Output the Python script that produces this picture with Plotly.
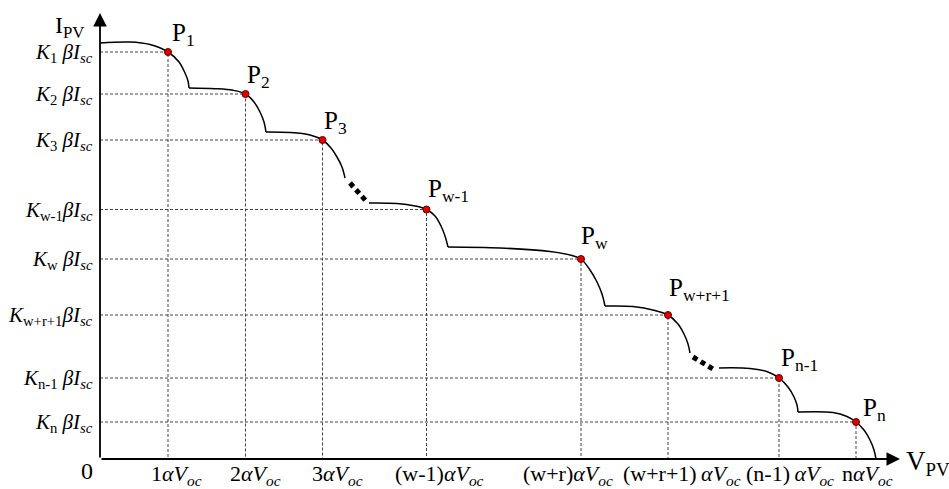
import plotly.graph_objects as go

# Maximum power points of each sub-string (voltage, current) in drawing units
mpp_v = [68, 145.5, 222.5, 326.5, 481, 568, 679, 756]
mpp_i = [407, 365, 319, 249.5, 200, 144, 81, 37]
mpp_names = ["1", "2", "3", "w-1", "w", "w+r+1", "n-1", "n"]

# Stepped I-V characteristic, one list per bypass-diode step
seg_v = [
    [0, 30, 50, 68, 79, 85, 88, 89],
    [89, 115, 133, 145.5, 154, 160, 164, 166],
    [166, 190, 210, 222.5, 231, 237, 242, 245],
    [269, 297, 315, 326.5, 335, 341, 345, 348],
    [348, 400, 450, 472, 481, 490, 497, 502, 505],
    [505, 533, 555, 568, 578, 584, 588, 590],
    [619, 650, 668, 679, 688, 694, 697, 698],
    [698, 733, 747, 756, 764, 770, 774, 776],
]
seg_i = [
    [416, 417, 414.5, 407, 397, 386, 378, 371],
    [371, 370.3, 368.7, 365, 357, 347, 337, 327],
    [327, 326.5, 324, 319, 311, 302, 292, 281],
    [256, 255.5, 253, 249.5, 243, 233, 223, 212],
    [212, 211, 207.5, 203.5, 200, 189, 177, 165, 153],
    [153, 152.5, 148.5, 144, 135, 125, 115, 106],
    [91, 90.5, 87, 81, 72, 62, 54, 47],
    [47, 46.5, 42.5, 37, 29, 19, 9, 0],
]

# Omitted steps ("...")
gap_v = [[250, 266], [593, 613]]
gap_i = [[276, 258], [102, 90]]

# Axis annotation texts
ytick_text = [
    "<i>K</i><sub>1</sub> <i>β</i><i>I</i><sub><i>sc</i></sub>",
    "<i>K</i><sub>2</sub> <i>β</i><i>I</i><sub><i>sc</i></sub>",
    "<i>K</i><sub>3</sub> <i>β</i><i>I</i><sub><i>sc</i></sub>",
    "<i>K</i><sub>w-1</sub><i>β</i><i>I</i><sub><i>sc</i></sub>",
    "<i>K</i><sub>w</sub> <i>β</i><i>I</i><sub><i>sc</i></sub>",
    "<i>K</i><sub>w+r+1</sub><i>β</i><i>I</i><sub><i>sc</i></sub>",
    "<i>K</i><sub>n-1</sub> <i>β</i><i>I</i><sub><i>sc</i></sub>",
    "<i>K</i><sub>n</sub> <i>β</i><i>I</i><sub><i>sc</i></sub>",
]
xtick_vals = [68, 145.5, 222.5, 326.5, 481, 568, 679, 756]
xtick_text = [
    "1<i>α</i><i>V</i><sub><i>oc</i></sub>",
    "2<i>α</i><i>V</i><sub><i>oc</i></sub>",
    "3<i>α</i><i>V</i><sub><i>oc</i></sub>",
    "(w-1)<i>α</i><i>V</i><sub><i>oc</i></sub>",
    "(w+r)<i>α</i><i>V</i><sub><i>oc</i></sub>",
    "(w+r+1)\u2009<i>α</i><i>V</i><sub><i>oc</i></sub>",
    "(n-1)\u2009<i>α</i><i>V</i><sub><i>oc</i></sub>",
    "n<i>α</i><i>V</i><sub><i>oc</i></sub>",
]
xtick_shift = [8, 10, 15, 13, -13, 14, 11, 11]
plabel_shift = [(3, 17), (0, 17), (0, 17), (0, 18), (-1, 21), (0, 25), (1, 18), (6, 12)]

FONT = "Liberation Serif"
fig = go.Figure()

# dotted guide lines from each MPP to both axes
for v, i in zip(mpp_v, mpp_i):
    fig.add_trace(go.Scatter(
        x=[0, v, v], y=[i, i, 0], mode="lines",
        line=dict(color="#444444", width=1, dash="3px,2px"),
        hoverinfo="skip"))

# I-V curve steps
for sv, si in zip(seg_v, seg_i):
    fig.add_trace(go.Scatter(
        x=sv, y=si, mode="lines",
        line=dict(color="black", width=1.5, shape="spline", smoothing=1.0),
        hoverinfo="skip"))

for gv, gi in zip(gap_v, gap_i):
    fig.add_trace(go.Scatter(
        x=gv, y=gi, mode="lines",
        line=dict(color="black", width=5, dash="5px,4px"),
        hoverinfo="skip"))

# MPP markers
fig.add_trace(go.Scatter(
    x=mpp_v, y=mpp_i, mode="markers",
    marker=dict(size=7, color="#e00000", line=dict(color="#600000", width=1)),
    hoverinfo="skip"))

ann = []
# axes with arrow heads
ann.append(dict(x=0, y=446, ax=0, ay=0, xref="x", yref="y", axref="x", ayref="y",
                text="", showarrow=True, arrowhead=2, arrowsize=1.5,
                arrowwidth=1.8, arrowcolor="black"))
ann.append(dict(x=800, y=0, ax=0, ay=0, xref="x", yref="y", axref="x", ayref="y",
                text="", showarrow=True, arrowhead=2, arrowsize=1.5,
                arrowwidth=1.8, arrowcolor="black"))

for i, t in zip(mpp_i, ytick_text):
    ann.append(dict(x=0, y=i, xref="x", yref="y", text=t, showarrow=False,
                    xanchor="right", yanchor="middle", xshift=-5, yshift=-1,
                    font=dict(family=FONT, size=21, color="black")))

for v, t, s in zip(xtick_vals, xtick_text, xtick_shift):
    ann.append(dict(x=v, y=0, xref="x", yref="y", text=t, showarrow=False,
                    xanchor="center", yanchor="middle", xshift=s, yshift=-16,
                    font=dict(family=FONT, size=22, color="black")))

for v, i, n, (dx, dy) in zip(mpp_v, mpp_i, mpp_names, plabel_shift):
    ann.append(dict(x=v, y=i, xref="x", yref="y", text="P<sub>" + n + "</sub>",
                    showarrow=False, xanchor="left", yanchor="middle",
                    xshift=dx - 1, yshift=dy + 1,
                    font=dict(family=FONT, size=25, color="black")))

ann.append(dict(x=0, y=446, xref="x", yref="y", text="I<sub>PV</sub>", showarrow=False,
                xanchor="center", yanchor="middle", xshift=-31, yshift=-14,
                font=dict(family=FONT, size=24, color="black")))
ann.append(dict(x=800, y=0, xref="x", yref="y", text="V<sub>PV</sub>", showarrow=False,
                xanchor="left", yanchor="middle", xshift=4, yshift=-4,
                font=dict(family=FONT, size=27, color="black")))
ann.append(dict(x=0, y=0, xref="x", yref="y", text="0", showarrow=False,
                xanchor="center", yanchor="middle", xshift=-13, yshift=-12,
                font=dict(family=FONT, size=24, color="black")))

fig.update_layout(
    width=949, height=489,
    margin=dict(l=0, r=0, t=0, b=0),
    paper_bgcolor="white", plot_bgcolor="white",
    showlegend=False,
    xaxis=dict(range=[-100, 849], visible=False, fixedrange=True),
    yaxis=dict(range=[-30, 459], visible=False, fixedrange=True),
    annotations=ann,
)

fig.write_html("out.html")
